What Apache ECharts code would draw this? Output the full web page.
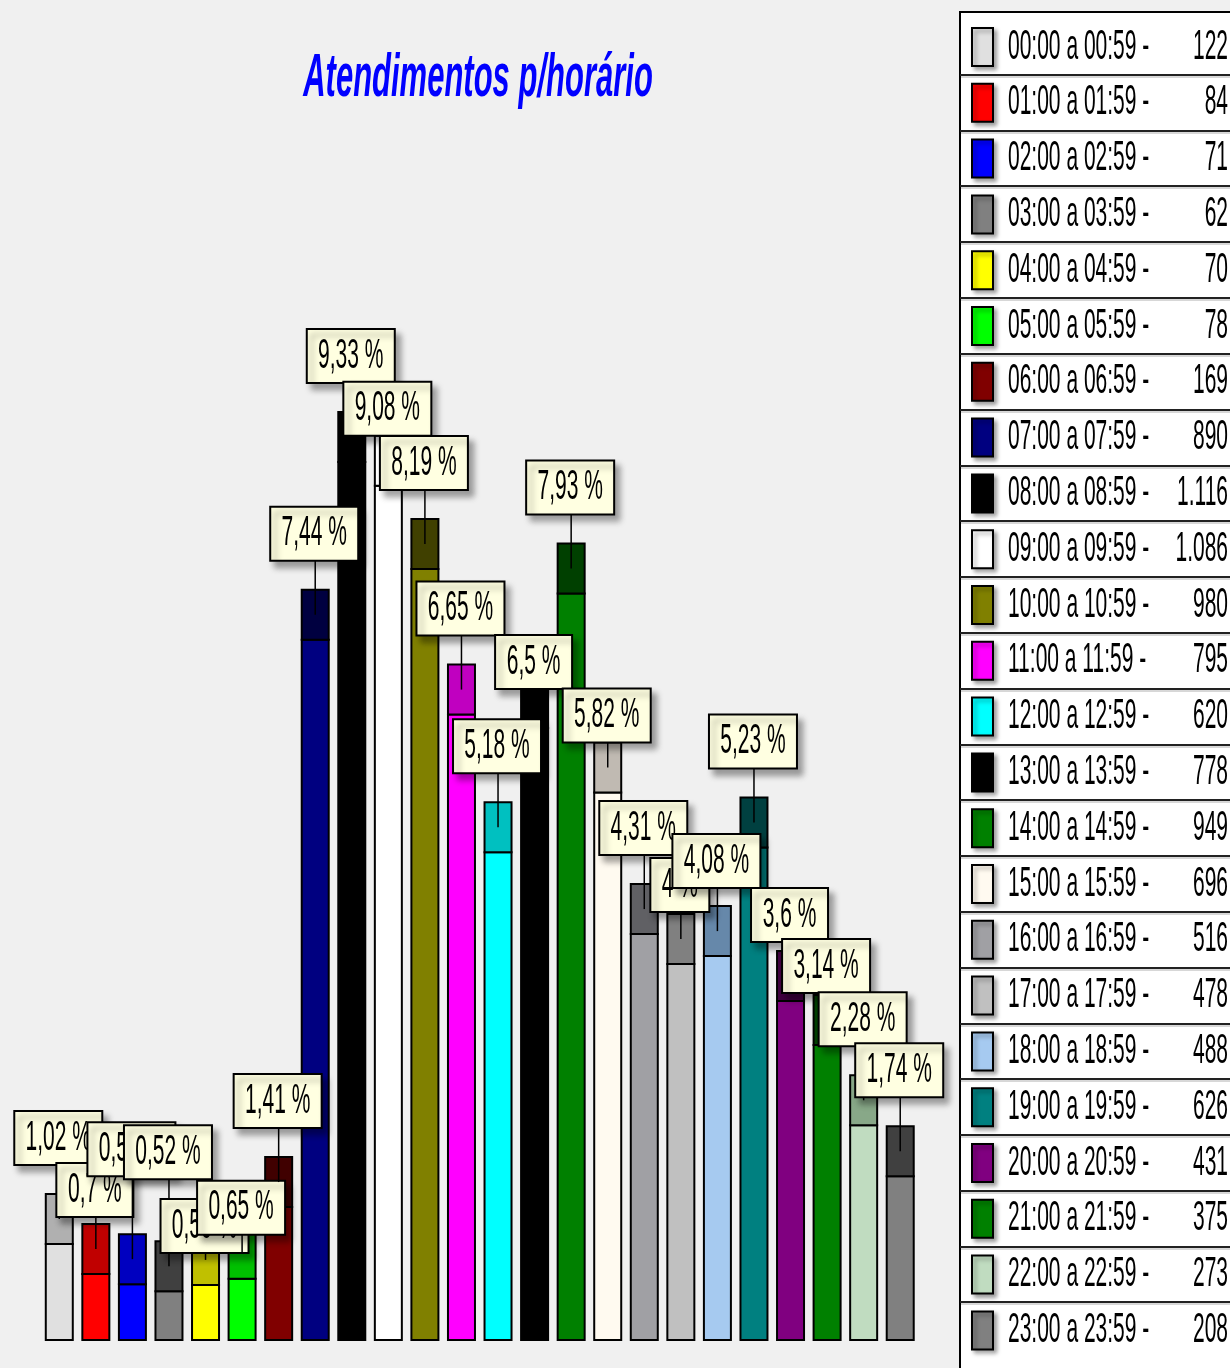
<!DOCTYPE html>
<html>
<head>
<meta charset="utf-8">
<script src="https://cdn.jsdelivr.net/npm/echarts@6.0.0/dist/echarts.min.js"></script>
<style>
  html, body { margin: 0; padding: 0; background: #f0f0f0; }
  #chart { width: 1230px; height: 1368px; }
</style>
</head>
<body>
<div id="chart"></div>
<script>
// faixas horárias (categorias)
const hours = [
  '00:00 a 00:59', '01:00 a 01:59', '02:00 a 02:59', '03:00 a 03:59',
  '04:00 a 04:59', '05:00 a 05:59', '06:00 a 06:59', '07:00 a 07:59',
  '08:00 a 08:59', '09:00 a 09:59', '10:00 a 10:59', '11:00 a 11:59',
  '12:00 a 12:59', '13:00 a 13:59', '14:00 a 14:59', '15:00 a 15:59',
  '16:00 a 16:59', '17:00 a 17:59', '18:00 a 18:59', '19:00 a 19:59',
  '20:00 a 20:59', '21:00 a 21:59', '22:00 a 22:59', '23:00 a 23:59'
];

// atendimentos por faixa
const counts = [
  122, 84, 71, 62, 70, 78, 169, 890, 1116, 1086, 980, 795,
  620, 778, 949, 696, 516, 478, 488, 626, 431, 375, 273, 208
];

// cores das barras e do "topo" 3D
const barColors = [
  '#e0e0e0', '#ff0000', '#0000ff', '#808080', '#ffff00', '#00ff00',
  '#800000', '#000080', '#000000', '#ffffff', '#808000', '#ff00ff',
  '#00ffff', '#000000', '#008000', '#fffaf0', '#a0a0a4', '#c0c0c0',
  '#a6caf0', '#008080', '#800080', '#008000', '#c0dcc0', '#808080'
];
const capColors = [
  '#b0b0b0', '#c00000', '#0000c0', '#404040', '#c0c000', '#00c000',
  '#400000', '#000040', '#000000', '#ffffff', '#404000', '#c000c0',
  '#00c0c0', '#000000', '#004000', '#c0bab2', '#606064', '#808080',
  '#6688aa', '#004040', '#400040', '#004000', '#88a888', '#404040'
];

// deslocamento vertical (px) de cada marca em relação à posição padrão
const markDrop = [0, 22, -29, -33, 47, 35, 0, 0, 0, 29, 0, 0, 0, 40, 0, 29, 0, 27, 11, 0, 20, 27, 0, 0];

const CAP = 50;       // altura do topo 3D
const GAP = 29;       // distância da marca ao topo
const BAR_W = 27;
const BOX_H = 54;
const FONT = '21px "Liberation Sans", Arial, sans-serif';
const STRETCH = 2;

const total = counts.reduce((a, b) => a + b, 0);
const pctText = counts.map(v => (Math.round(v / total * 10000) / 100).toString().replace('.', ',') + ' %');
const fmtNum = v => v.toString().replace(/\B(?=(\d{3})+(?!\d))/g, '.');

const measureCtx = document.createElement('canvas').getContext('2d');
function textWidth(t) {
  measureCtx.font = FONT;
  return measureCtx.measureText(t).width;
}

// barra com topo escuro
function renderBar(params, api) {
  const i = params.dataIndex;
  const top = api.coord([i, api.value(1)]);
  const base = api.coord([i, 0]);
  const x = top[0] - BAR_W / 2;
  return {
    type: 'group',
    children: [
      { type: 'rect', shape: { x: x, y: top[1], width: BAR_W, height: base[1] - top[1] },
        style: { fill: barColors[i], stroke: '#000', lineWidth: 2 } },
      { type: 'rect', shape: { x: x, y: top[1] - CAP, width: BAR_W, height: CAP },
        style: { fill: capColors[i], stroke: '#000', lineWidth: 2 } }
    ]
  };
}

// marca com percentual
function renderMark(params, api) {
  const i = params.dataIndex;
  const top = api.coord([i, api.value(1)]);
  const capTop = top[1] - CAP;
  const bottom = capTop - GAP + markDrop[i];
  const txt = pctText[i];
  const w = Math.round(textWidth(txt) + 23);
  const cx = top[0] - 1;
  return {
    type: 'group',
    children: [
      { type: 'line', shape: { x1: top[0], y1: bottom, x2: top[0], y2: capTop + CAP / 2 },
        style: { stroke: '#000', lineWidth: 1.5 } },
      { type: 'rect', shape: { x: cx - w / 2, y: bottom - BOX_H, width: w, height: BOX_H },
        style: { fill: '#ffffe1', stroke: '#000', lineWidth: 2,
                 shadowBlur: 6, shadowOffsetX: 5, shadowOffsetY: 6, shadowColor: 'rgba(0,0,0,0.35)' } },
      { type: 'text', x: cx, y: bottom - BOX_H / 2, scaleY: STRETCH,
        style: { text: txt, font: FONT, fill: '#000',
                 align: 'center', verticalAlign: 'middle',
                 textAlign: 'center', textVerticalAlign: 'middle' } }
    ]
  };
}

// legenda desenhada à direita
function buildLegend() {
  const els = [];
  const rowH = 55.8;
  const y0 = 47;
  els.push({ type: 'rect', shape: { x: 960, y: 12, width: 300, height: 1400 },
    style: { fill: '#fff', stroke: '#000', lineWidth: 2 } });
  hours.forEach((h, i) => {
    const cy = y0 + rowH * i;
    if (i > 0) {
      const ly = Math.round(cy - rowH / 2);
      els.push({ type: 'line', shape: { x1: 960, y1: ly, x2: 1240, y2: ly },
        style: { stroke: '#222', lineWidth: 2 } });
      els.push({ type: 'line', shape: { x1: 961, y1: ly + 2, x2: 1240, y2: ly + 2 },
        style: { stroke: '#b0b0b0', lineWidth: 1 } });
    }
    els.push({ type: 'rect', shape: { x: 972, y: cy - 19, width: 21, height: 38 },
      style: { fill: barColors[i], stroke: '#000', lineWidth: 2,
               shadowBlur: 4, shadowOffsetX: 3, shadowOffsetY: 3, shadowColor: 'rgba(0,0,0,0.35)' } });
    els.push({ type: 'text', x: 1008, y: cy, scaleY: STRETCH,
      style: { text: h + ' -', font: FONT, fill: '#000',
               align: 'left', verticalAlign: 'middle',
               textAlign: 'left', textVerticalAlign: 'middle' } });
    els.push({ type: 'text', x: 1228, y: cy, scaleY: STRETCH,
      style: { text: fmtNum(counts[i]), font: FONT, fill: '#000',
               align: 'right', verticalAlign: 'middle',
               textAlign: 'right', textVerticalAlign: 'middle' } });
  });
  // título
  els.push({ type: 'text', x: 478, y: 79, scaleY: 1.95,
    style: { text: 'Atendimentos p/horário', font: 'italic bold 31px "Liberation Sans", Arial, sans-serif',
             fill: '#0000ff', align: 'center', verticalAlign: 'middle',
             textAlign: 'center', textVerticalAlign: 'middle' } });
  return els;
}

const chart = echarts.init(document.getElementById('chart'));
const seriesData = counts.map((v, i) => [i, v]);

const option = {
  backgroundColor: '#f0f0f0',
  animation: false,
  grid: { left: 41, top: 396, width: 877.5, height: 944 },
  xAxis: { type: 'category', data: hours, show: false },
  yAxis: { type: 'value', min: 0, max: 1200, show: false },
  graphic: { elements: buildLegend() },
  series: [
    { type: 'custom', name: 'barras', renderItem: renderBar, data: seriesData, clip: false, z: 2 },
    { type: 'custom', name: 'marcas', renderItem: renderMark, data: seriesData, clip: false, z: 3 }
  ]
};
chart.setOption(option);
</script>
</body>
</html>
